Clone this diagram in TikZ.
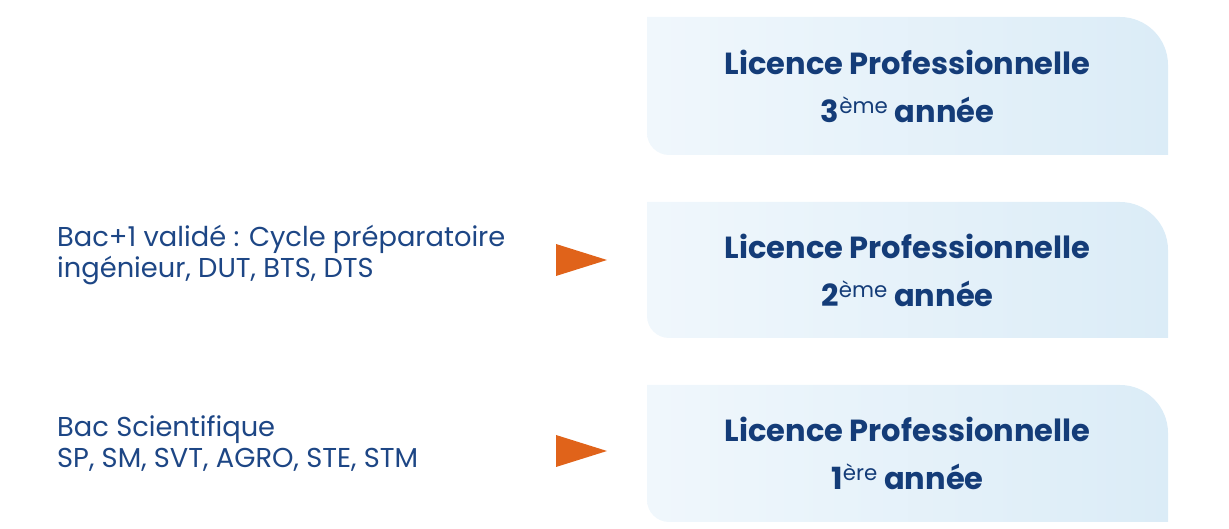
\documentclass[tikz,border=0pt]{standalone}
\usepackage{fontspec}
\setmainfont{Poppins}
\definecolor{lpblue}{HTML}{143C78}
\definecolor{reqblue}{HTML}{1D4685}
\definecolor{markorange}{HTML}{E0631A}
\definecolor{boxleft}{HTML}{F0F7FC}
\definecolor{boxright}{HTML}{DBECF7}
\newcommand{\yearsup}[1]{\textsuperscript{\mdseries #1}}
\begin{document}
\begin{tikzpicture}[x=1pt,y=1pt,
	lpbox/.style={left color=boxleft,right color=boxright},
	lptitle/.style={text=lpblue,align=center,inner sep=0pt,font=\fontsize{30.5}{48}\selectfont\bfseries},
	prereq/.style={text=reqblue,align=left,anchor=west,inner sep=0pt,font=\fontsize{27.3}{31}\selectfont},
	arrowmark/.style={fill=markorange}]
		\useasboundingbox (0,0) rectangle (1229,529);
		%boxes
		\shade[lpbox] (647,512) -- (1120,512) arc[start angle=90,end angle=0,radius=48] -- (1168,374) -- (669,374) arc[start angle=270,end angle=180,radius=22] -- cycle;
		\shade[lpbox] (647,327) -- (1120,327) arc[start angle=90,end angle=0,radius=48] -- (1168,191) -- (669,191) arc[start angle=270,end angle=180,radius=22] -- cycle;
		\shade[lpbox] (647,144) -- (1120,144) arc[start angle=90,end angle=0,radius=48] -- (1168,7) -- (669,7) arc[start angle=270,end angle=180,radius=22] -- cycle;
		
		\node[lptitle] (lp3) at (907.5,443) {Licence Professionnelle\\3\yearsup{ème} année};
		\node[lptitle] (lp2) at (907.5,259) {Licence Professionnelle\\2\yearsup{ème} année};
		\node[lptitle] (lp1) at (907.5,75.5) {Licence Professionnelle\\1\yearsup{ère} année};
		
		%entry
		\node[prereq] (bac1) at (57,274) {Bac+1 validé : Cycle préparatoire\\ingénieur, DUT, BTS, DTS};
		\node[prereq] (bac) at (57,85) {Bac Scientifique\\SP, SM, SVT, AGRO, STE, STM};
		
		\fill[arrowmark] (556,285) -- (607,269) -- (556,253) -- cycle;
		\fill[arrowmark] (556,94) -- (607,78) -- (556,62) -- cycle;
		
		\end{tikzpicture}
\end{document}
